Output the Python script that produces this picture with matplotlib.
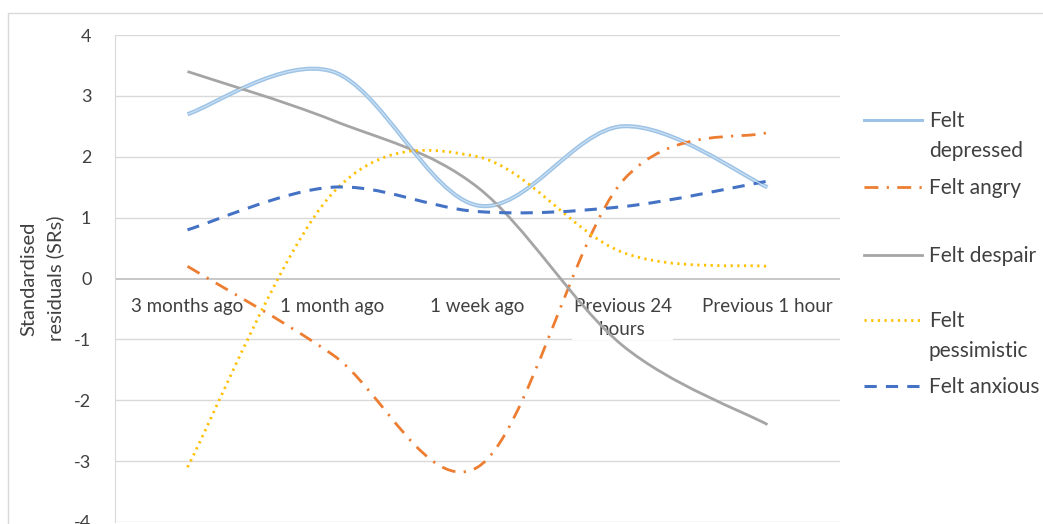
import numpy as np
import matplotlib
matplotlib.use('Agg')
import matplotlib.pyplot as plt
from matplotlib.path import Path
from matplotlib.patches import PathPatch, Rectangle
from matplotlib.lines import Line2D

plt.rcParams['font.family'] = ['Lato', 'DejaVu Sans']

# data
categories = ['3 months ago', '1 month ago', '1 week ago', 'Previous 24\nhours', 'Previous 1 hour']
felt_depressed = [2.7, 3.4, 1.2, 2.5, 1.5]
felt_angry = [0.2, -1.25, -3.1, 1.6, 2.4]
felt_despair = [3.4, 2.6, 1.5, -1.1, -2.4]
felt_pessimistic = [-3.1, 1.4, 2.0, 0.43, 0.2]
felt_anxious = [0.8, 1.5, 1.1, 1.18, 1.6]
yticks = [-4, -3, -2, -1, 0, 1, 2, 3, 4]


def smooth_path(ys):
    # excel-like smoothed line (bezier through the points)
    xs = list(range(len(ys)))
    n = len(ys)
    verts = [(xs[0], ys[0])]
    codes = [Path.MOVETO]
    for i in range(n - 1):
        a = i - 1 if i > 0 else i
        b = i + 2 if i + 2 < n else i + 1
        c1 = (xs[i] + (xs[i + 1] - xs[a]) / 6, ys[i] + (ys[i + 1] - ys[a]) / 6)
        c2 = (xs[i + 1] - (xs[b] - xs[i]) / 6, ys[i + 1] - (ys[b] - ys[i]) / 6)
        verts += [c1, c2, (xs[i + 1], ys[i + 1])]
        codes += [Path.CURVE4] * 3
    return Path(verts, codes)


series = [
    ('Felt\ndepressed', felt_depressed, '#9DC3E6', 3.0, '-'),
    ('Felt angry', felt_angry, '#ED7D31', 2.0, (0, (5, 3, 0.8, 3))),
    ('Felt despair', felt_despair, '#A5A5A5', 2.0, '-'),
    ('Felt\npessimistic', felt_pessimistic, '#FFC000', 2.0, (0, (0.8, 1.6))),
    ('Felt anxious', felt_anxious, '#4472C4', 2.2, (0, (4, 3))),
]

fig = plt.figure(figsize=(10.43, 5.24), dpi=100)
ax = fig.add_axes([115 / 1043, 1 - 522 / 524, 725 / 1043, 487 / 524])

# chart border
fig.add_artist(Rectangle((8 / 1043, -0.1), 1.2, 1.1 - 13 / 524,
                         transform=fig.transFigure, fill=False,
                         edgecolor='#D9D9D9', lw=1))

ax.set_xlim(-0.5, 4.5)
ax.set_ylim(-4, 4)
ax.set_yticks(yticks)
ax.set_yticklabels([str(t) for t in yticks], fontsize=13, color='#404040')
ax.tick_params(axis='y', length=0, pad=17)
ax.set_xticks([])
for t in yticks:
    if t != 0:
        ax.axhline(t, color='#D9D9D9', lw=1, zorder=0)
ax.axhline(0, color='#BFBFBF', lw=1.2, zorder=0.5)
for s in ['top', 'right', 'bottom']:
    ax.spines[s].set_visible(False)
ax.spines['left'].set_color('#D9D9D9')

ax.set_ylabel('Standardised\nresiduals (SRs)', fontsize=14.5, color='#404040',
              labelpad=7, linespacing=1.6)

# category labels under the zero line
for i, c in enumerate(categories):
    ax.annotate(c, (i, 0), xytext=(0, -14), textcoords='offset points',
                ha='center', va='top', fontsize=13.5, color='#404040',
                linespacing=1.45, zorder=1,
                bbox=dict(facecolor='white', edgecolor='none', pad=1))

for name, vals, col, lw, ls in series:
    p = PathPatch(smooth_path(vals), fill=False, edgecolor=col, lw=lw,
                  linestyle=ls, capstyle='butt', zorder=3)
    ax.add_patch(p)
    if name == 'Felt\ndepressed':
        ax.add_patch(PathPatch(smooth_path(vals), fill=False, edgecolor='#CFE2F3',
                               lw=0.8, zorder=3.1))

# legend drawn by hand
leg_y = [120, 187, 255, 320, 386]
for (name, vals, col, lw, ls), y in zip(series, leg_y):
    fy = 1 - y / 524
    fig.add_artist(Line2D([864 / 1043, 922 / 1043], [fy, fy], color=col,
                          lw=min(lw, 2.2), linestyle=ls, transform=fig.transFigure))
    fig.text(929 / 1043, fy + 9 / 524, name, fontsize=15, color='#404040',
             va='top', ha='left', linespacing=1.6,
             transform=fig.transFigure)

fig.savefig('out.png', dpi=100)
